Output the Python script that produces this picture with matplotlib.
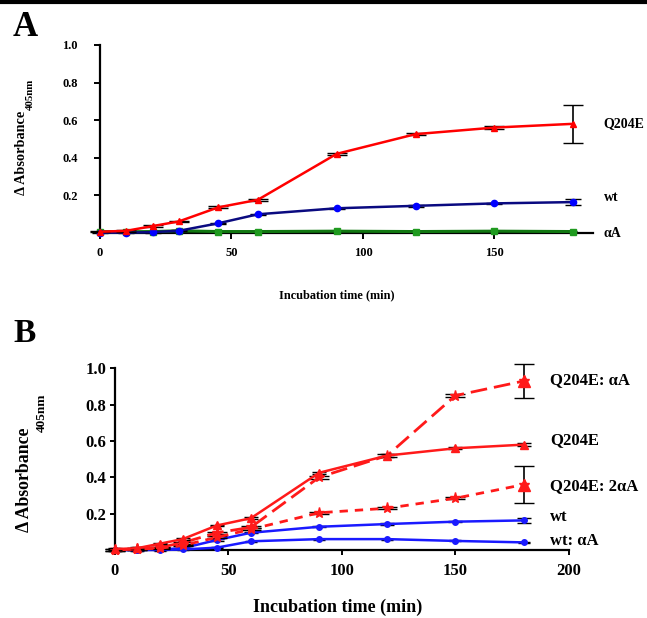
import matplotlib.pyplot as plt
from matplotlib.lines import Line2D

plt.rcParams['font.family'] = 'Liberation Serif'
plt.rcParams['font.weight'] = 'bold'

time_min = [0, 10, 20, 30, 45, 60, 90, 120, 150, 180]

# panel A
a_q204e = [0.005, 0.01, 0.035, 0.06, 0.135, 0.175, 0.42, 0.525, 0.56, 0.58]
a_q204e_err = [0.004, 0.004, 0.004, 0.004, 0.005, 0.005, 0.006, 0.006, 0.006, 0.10]
a_wt = [0.0, 0.0, 0.003, 0.01, 0.05, 0.098, 0.13, 0.143, 0.156, 0.163]
a_wt_err = [0.003, 0.003, 0.003, 0.003, 0.004, 0.004, 0.004, 0.004, 0.004, 0.015]
a_alpha = [0.005, 0.005, 0.006, 0.01, 0.006, 0.006, 0.008, 0.006, 0.008, 0.006]
a_alpha_err = [0.003] * 10

# panel B
b_q204e_alpha = [0.0, 0.005, 0.015, 0.04, 0.095, 0.125, 0.40, 0.52, 0.85, 0.93]
b_q204e_alpha_err = [0.004, 0.004, 0.004, 0.005, 0.005, 0.006, 0.01, 0.01, 0.01, 0.095]
b_q204e = [0.005, 0.01, 0.035, 0.06, 0.135, 0.175, 0.425, 0.52, 0.56, 0.58]
b_q204e_err = [0.004, 0.004, 0.004, 0.004, 0.005, 0.005, 0.006, 0.006, 0.006, 0.008]
b_q204e_2alpha = [0.0, 0.005, 0.01, 0.025, 0.07, 0.114, 0.205, 0.23, 0.285, 0.36]
b_q204e_2alpha_err = [0.004, 0.004, 0.004, 0.004, 0.005, 0.005, 0.006, 0.006, 0.006, 0.10]
b_wt = [0.0, 0.0, 0.003, 0.01, 0.055, 0.095, 0.128, 0.143, 0.156, 0.163]
b_wt_err = [0.003, 0.003, 0.003, 0.003, 0.003, 0.003, 0.003, 0.003, 0.004, 0.012]
b_wt_alpha = [0.0, 0.0, 0.0, 0.003, 0.013, 0.048, 0.06, 0.06, 0.05, 0.042]
b_wt_alpha_err = [0.003] * 10

fig = plt.figure(figsize=(6.47, 6.18), dpi=100)

# thick rule along the top edge
fig.add_artist(Line2D([0, 1], [0.9975, 0.9975], color='black', lw=3, transform=fig.transFigure))


def style_axes(ax, tick_size, ypad, xpad, tick_len):
    ax.spines['top'].set_visible(False)
    ax.spines['right'].set_visible(False)
    ax.spines['left'].set_linewidth(1.6)
    ax.spines['bottom'].set_linewidth(1.6)
    ax.tick_params(axis='y', direction='out', length=tick_len, width=1.4, pad=ypad, labelsize=tick_size)
    ax.tick_params(axis='x', direction='out', length=tick_len, width=1.4, pad=xpad, labelsize=tick_size)
    for lbl in ax.get_xticklabels() + ax.get_yticklabels():
        lbl.set_fontweight('bold')


# ---- panel A ----
axA = fig.add_axes([0.1546, 0.6235, 0.762, 0.3037])
axA.errorbar(time_min, a_alpha, yerr=a_alpha_err, color='#117711', lw=2.2, marker='s', ms=4.5,
             mfc='#1f9a1f', mec='#1f9a1f', ecolor='black', elinewidth=1, capsize=3, clip_on=False, zorder=3)
axA.errorbar(time_min, a_wt, yerr=a_wt_err, color='#0a0a80', lw=1.8, marker='o', ms=4.5,
             mfc='#0000ff', mec='#0000ff', ecolor='black', elinewidth=1.2, capsize=6, clip_on=False, zorder=4)
axA.errorbar(time_min, a_q204e, yerr=a_q204e_err, color='#ff0000', lw=1.8, marker='^', ms=5,
             mfc='#ff0000', mec='#ff0000', ecolor='black', elinewidth=1.2, capsize=7, clip_on=False, zorder=5)
axA.set_xlim(0, 187.5)
axA.set_ylim(0, 1.0)
axA.set_xticks([0, 50, 100, 150])
axA.set_yticks([0.2, 0.4, 0.6, 0.8, 1.0])
style_axes(axA, 9, 12, 6, 4)
axA.set_xlabel('Incubation time (min)', fontsize=8.8, fontweight='bold', va='top')
axA.xaxis.set_label_coords(0.48, -0.30)
fig.text(0.0332, 0.7532, 'Δ Absorbance', fontsize=10.3, fontweight='bold', rotation=90, ha='center', va='center')
fig.text(0.0471, 0.8479, '405nm', fontsize=7.8, fontweight='bold', rotation=90, ha='center', va='center')
for txt, yv in [('Q204E', 0.58), ('wt', 0.19), ('αA', -0.005)]:
    axA.text(191.5, yv, txt, fontsize=10, fontweight='bold', va='center', ha='left', clip_on=False)
fig.text(0.02, 0.955, 'A', fontsize=25, fontweight='bold', va='center')

# ---- panel B ----
axB = fig.add_axes([0.177, 0.110, 0.7025, 0.294])
blue = '#1a1aff'
red = '#ff1a1a'
axB.errorbar(time_min, b_wt_alpha, yerr=b_wt_alpha_err, color=blue, lw=1.8, marker='o', ms=4,
             ecolor='black', elinewidth=1, capsize=4, clip_on=False, zorder=3)
axB.errorbar(time_min, b_wt, yerr=b_wt_err, color=blue, lw=1.8, marker='o', ms=4,
             ecolor='black', elinewidth=1.2, capsize=5, clip_on=False, zorder=3)
axB.errorbar(time_min, b_q204e_2alpha, yerr=b_q204e_2alpha_err, color=red, lw=2, ls=(0, (3, 2.5)),
             marker='*', ms=8, ecolor='black', elinewidth=1.2, capsize=7, clip_on=False, zorder=4)
axB.errorbar(time_min, b_q204e, yerr=b_q204e_err, color=red, lw=1.8, marker='^', ms=6,
             ecolor='black', elinewidth=1.2, capsize=5, clip_on=False, zorder=5)
axB.errorbar(time_min, b_q204e_alpha, yerr=b_q204e_alpha_err, color=red, lw=2, ls=(0, (6, 2.5)),
             marker='*', ms=8, ecolor='black', elinewidth=1.2, capsize=7, clip_on=False, zorder=4)
axB.plot(time_min[-1:], b_q204e_alpha[-1:], '^', color=red, ms=8, zorder=6, clip_on=False)
axB.plot(time_min[-1:], b_q204e_2alpha[-1:], '^', color=red, ms=8, zorder=6, clip_on=False)
axB.set_xlim(0, 200)
axB.set_ylim(0, 1.0)
axB.set_xticks([0, 50, 100, 150, 200])
axB.set_yticks([0.2, 0.4, 0.6, 0.8, 1.0])
style_axes(axB, 12, 2.5, 6, 3.6)
axB.set_xlabel('Incubation time (min)', fontsize=13, fontweight='bold', va='top')
axB.xaxis.set_label_coords(0.49, -0.27)
fig.text(0.0386, 0.2233, 'Δ Absorbance', fontsize=12.8, fontweight='bold', rotation=90, ha='center', va='center')
fig.text(0.0649, 0.3317, '405nm', fontsize=9.5, fontweight='bold', rotation=90, ha='center', va='center')
for txt, yv in [('Q204E: αA', 0.935), ('Q204E', 0.605), ('Q204E: 2αA', 0.352),
                ('wt', 0.18), ('wt: αA', 0.05)]:
    axB.text(191.6, yv, txt, fontsize=12, fontweight='bold', va='center', ha='left', clip_on=False)
fig.text(0.02, 0.46, 'B', fontsize=24, fontweight='bold', va='center')

fig.savefig('out.png', dpi=100)
